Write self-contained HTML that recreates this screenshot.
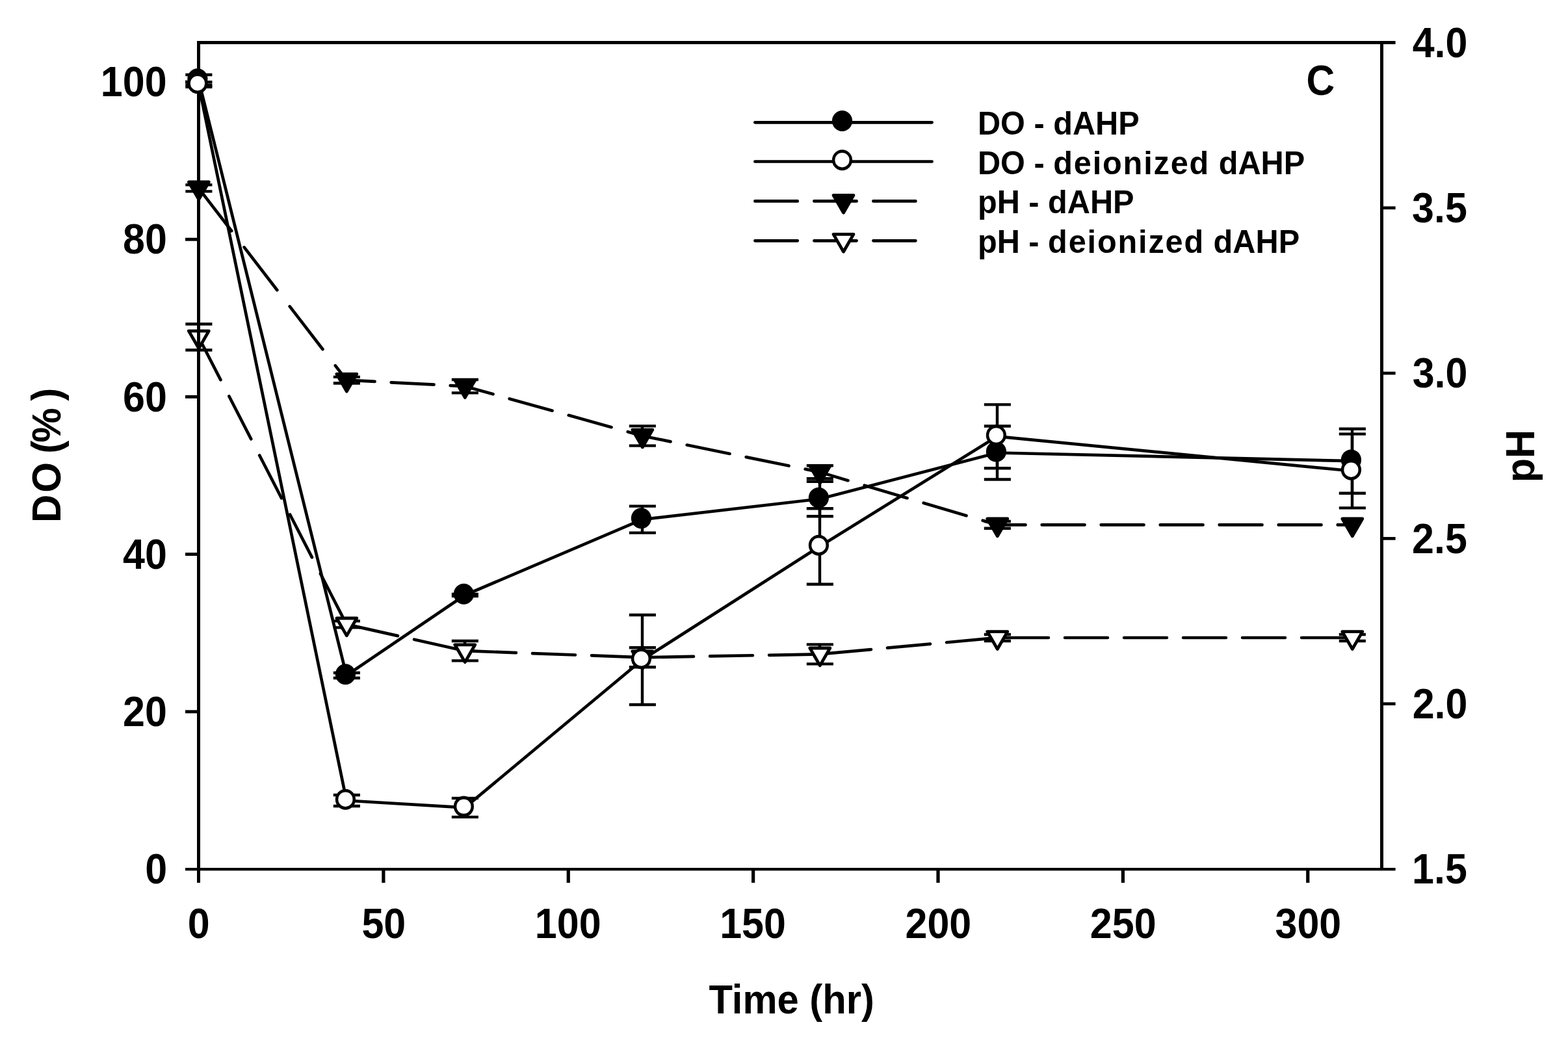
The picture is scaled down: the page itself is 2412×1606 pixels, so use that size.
<!DOCTYPE html>
<html lang="en"><head><meta charset="utf-8"><title>DO and pH versus time</title>
<style>
html,body{margin:0;padding:0;background:#fff;}
body{width:2412px;height:1606px;overflow:hidden;}
svg{display:block;}
text{font-family:"Liberation Sans", sans-serif;font-weight:bold;fill:#000;}
.ax{fill:#000;}
.ln{stroke:#000;stroke-width:4.7;fill:none;stroke-linejoin:round;stroke-linecap:round;}
.eb{stroke:#000;stroke-width:4.4;fill:none;stroke-linecap:butt;}
.k{fill:#000;}
.tf{fill:#000;stroke:#000;stroke-width:4.8;stroke-linejoin:round;}
.to{fill:#fff;stroke:#000;stroke-width:4.8;stroke-linejoin:round;}
.w{fill:#fff;}
</style></head><body>
<svg width="2412" height="1606" viewBox="0 0 2412 1606" role="img" aria-label="DO and pH versus time">
<rect x="0" y="0" width="2412" height="1606" fill="#fff"/>
<g id="ph-series">
<path class="ln" d="M305.5 289.4L356.19 355.2M375.61 380.4L426.3 446.2M445.71 471.4L496.41 537.2M515.82 562.4L533 584.7L576.5 586.97M601.7 588.29L667.5 591.72M692.7 593.04L715 594.2L758.5 606.36M783.7 613.4L849.5 631.79M874.7 638.83L940.5 657.22M965.7 664.27L988 670.5L1031.5 679.38M1056.7 684.52L1122.5 697.94M1147.7 703.08L1213.5 716.51M1238.7 721.65L1261 726.2L1304.5 739.14M1329.7 746.63L1395.5 766.21M1420.7 773.7L1486.5 793.27M1511.7 800.77L1534 807.4L1577.5 807.4M1602.7 807.4L1668.5 807.4M1693.7 807.4L1759.5 807.4M1784.7 807.4L1850.5 807.4M1875.7 807.4L1941.5 807.4M1966.7 807.4L2032.5 807.4M2057.7 807.4L2080 807.4"/>
<path class="eb" d="M305.5 284.4V294.4M285.3 284.4H326.4M285.3 294.4H326.4M533 579.9V589.5M512.8 579.9H553.9M512.8 589.5H553.9M715 584V604.4M694.8 584H735.9M694.8 604.4H735.9M988 655.4V685.6M967.8 655.4H1008.9M967.8 685.6H1008.9M1261 716.2V736.2M1240.8 716.2H1281.9M1240.8 736.2H1281.9M1534 802V812.8M1513.8 802H1554.9M1513.8 812.8H1554.9"/>
<polygon class="tf" points="290.3,280 321.3,280 305.8,306.85"/>
<polygon class="tf" points="517.8,575.3 548.8,575.3 533.3,602.15"/>
<polygon class="tf" points="699.8,584.8 730.8,584.8 715.3,611.65"/>
<polygon class="tf" points="972.8,661.1 1003.8,661.1 988.3,687.95"/>
<polygon class="tf" points="1245.8,716.8 1276.8,716.8 1261.3,743.65"/>
<polygon class="tf" points="1518.8,798 1549.8,798 1534.3,824.85"/>
<polygon class="tf" points="2064.8,798 2095.8,798 2080.3,824.85"/>
<path class="ln" d="M305.5 518.5L339.38 584.3M352.35 609.5L386.22 675.3M399.2 700.5L433.07 766.3M446.05 791.5L479.92 857.3M492.9 882.5L526.77 948.3M546.1 963.34L611.9 978.09M637.1 983.74L702.9 998.49M728.1 1001.68L793.9 1004.12M819.1 1005.05L884.9 1007.49M910.1 1008.42L975.9 1010.85M1001.1 1011.06L1066.9 1009.88M1092.1 1009.43L1157.9 1008.25M1183.1 1007.8L1248.9 1006.62M1274.1 1005.18L1339.9 999.06M1365.1 996.71L1430.9 990.59M1456.1 988.25L1521.9 982.13M1547.1 981L1612.9 981M1638.1 981L1703.9 981M1729.1 981L1794.9 981M1820.1 981L1885.9 981M1911.1 981L1976.9 981M2002.1 981L2067.9 981"/>
<path class="eb" d="M305.5 498.5V538.5M285.3 498.5H326.4M285.3 538.5H326.4M533 955.4V965.4M512.8 955.4H553.9M512.8 965.4H553.9M715 986V1016.4M694.8 986H735.9M694.8 1016.4H735.9M988 996.3V1026.3M967.8 996.3H1008.9M967.8 1026.3H1008.9M1261 991.4V1021.4M1240.8 991.4H1281.9M1240.8 1021.4H1281.9M1534 976V986M1513.8 976H1554.9M1513.8 986H1554.9M2080 976V986M2059.8 976H2100.9M2059.8 986H2100.9"/>
<polygon class="to" points="290.3,509.1 321.3,509.1 305.8,535.95"/>
<polygon class="to" points="517.8,951 548.8,951 533.3,977.85"/>
<polygon class="to" points="699.8,991.8 730.8,991.8 715.3,1018.65"/>
<polygon class="to" points="972.8,1001.9 1003.8,1001.9 988.3,1028.75"/>
<polygon class="to" points="1245.8,997 1276.8,997 1261.3,1023.85"/>
<polygon class="to" points="1518.8,971.6 1549.8,971.6 1534.3,998.45"/>
<polygon class="to" points="2064.8,971.6 2095.8,971.6 2080.3,998.45"/>
</g>
<g id="axes">
<rect class="ax" x="303" y="63" width="5" height="1295"/>
<rect class="ax" x="2123" y="63" width="5" height="1276"/>
<rect class="ax" x="303" y="63" width="1843.6" height="5"/>
<rect class="ax" x="285" y="1335" width="1861.6" height="4.3"/>
<rect class="ax" x="285" y="1092.36" width="18" height="4.9"/>
<rect class="ax" x="285" y="850.17" width="18" height="4.9"/>
<rect class="ax" x="285" y="607.98" width="18" height="4.9"/>
<rect class="ax" x="285" y="365.79" width="18" height="4.9"/>
<rect class="ax" x="285" y="123.6" width="18" height="4.9"/>
<rect class="ax" x="2128" y="1080.35" width="18.6" height="4.7"/>
<rect class="ax" x="2128" y="826.05" width="18.6" height="4.7"/>
<rect class="ax" x="2128" y="571.75" width="18.6" height="4.7"/>
<rect class="ax" x="2128" y="317.45" width="18.6" height="4.7"/>
<rect class="ax" x="587.27" y="1339" width="5.2" height="19"/>
<rect class="ax" x="871.65" y="1339" width="5.2" height="19"/>
<rect class="ax" x="1156.03" y="1339" width="5.2" height="19"/>
<rect class="ax" x="1440.4" y="1339" width="5.2" height="19"/>
<rect class="ax" x="1724.78" y="1339" width="5.2" height="19"/>
<rect class="ax" x="2009.15" y="1339" width="5.2" height="19"/>
</g>
<g id="do-series">
<polyline class="ln" points="305.5,123 533,1039 715,915.5 988,799.1 1261,767.5 1534,696.5 2080,709.2"/>
<path class="eb" d="M305.5 115V131M285.3 115H326.4M285.3 131H326.4M533 1035V1043M512.8 1035H553.9M512.8 1043H553.9M715 914V917M694.8 914H735.9M694.8 917H735.9M988 778.6V819.6M967.8 778.6H1008.9M967.8 819.6H1008.9M1261 740.8V794.2M1240.8 740.8H1281.9M1240.8 794.2H1281.9M1534 655.5V737.5M1513.8 655.5H1554.9M1513.8 737.5H1554.9M2080 659.7V758.7M2059.8 659.7H2100.9M2059.8 758.7H2100.9"/>
<ellipse class="k" cx="303.9" cy="121.2" rx="15.6" ry="16"/>
<ellipse class="k" cx="531.4" cy="1037.2" rx="15.6" ry="16"/>
<ellipse class="k" cx="713.4" cy="913.7" rx="15.6" ry="16"/>
<ellipse class="k" cx="986.4" cy="797.3" rx="15.6" ry="16"/>
<ellipse class="k" cx="1259.4" cy="765.7" rx="15.6" ry="16"/>
<ellipse class="k" cx="1532.4" cy="694.7" rx="15.6" ry="16"/>
<ellipse class="k" cx="2078.4" cy="707.4" rx="15.6" ry="16"/>
<polyline class="ln" points="305.5,130 533,1231.5 715,1242.4 988,1015 1261,840.5 1534,671.3 2080,724.5"/>
<path class="eb" d="M305.5 126.2V133.8M285.3 126.2H326.4M285.3 133.8H326.4M533 1223V1240M512.8 1223H553.9M512.8 1240H553.9M715 1227.9V1256.9M694.8 1227.9H735.9M694.8 1256.9H735.9M988 946V1084M967.8 946H1008.9M967.8 1084H1008.9M1261 782.3V898.7M1240.8 782.3H1281.9M1240.8 898.7H1281.9M1534 622.4V720.2M1513.8 622.4H1554.9M1513.8 720.2H1554.9M2080 667.6V781.4M2059.8 667.6H2100.9M2059.8 781.4H2100.9"/>
<ellipse class="k" cx="303.9" cy="128.2" rx="15.6" ry="16"/>
<ellipse class="w" cx="303.9" cy="128.2" rx="11.1" ry="11.2"/>
<ellipse class="k" cx="531.4" cy="1229.7" rx="15.6" ry="16"/>
<ellipse class="w" cx="531.4" cy="1229.7" rx="11.1" ry="11.2"/>
<ellipse class="k" cx="713.4" cy="1240.6" rx="15.6" ry="16"/>
<ellipse class="w" cx="713.4" cy="1240.6" rx="11.1" ry="11.2"/>
<ellipse class="k" cx="986.4" cy="1013.2" rx="15.6" ry="16"/>
<ellipse class="w" cx="986.4" cy="1013.2" rx="11.1" ry="11.2"/>
<ellipse class="k" cx="1259.4" cy="838.7" rx="15.6" ry="16"/>
<ellipse class="w" cx="1259.4" cy="838.7" rx="11.1" ry="11.2"/>
<ellipse class="k" cx="1532.4" cy="669.5" rx="15.6" ry="16"/>
<ellipse class="w" cx="1532.4" cy="669.5" rx="11.1" ry="11.2"/>
<ellipse class="k" cx="2078.4" cy="722.7" rx="15.6" ry="16"/>
<ellipse class="w" cx="2078.4" cy="722.7" rx="11.1" ry="11.2"/>
</g>
<g id="ticklabels">
<text transform="translate(223.19,1359.22) scale(1,1.075)" font-size="61">0</text>
<text transform="translate(189.03,1117.03) scale(1,1.075)" font-size="61">20</text>
<text transform="translate(189.03,874.84) scale(1,1.075)" font-size="61">40</text>
<text transform="translate(189.03,632.65) scale(1,1.075)" font-size="61">60</text>
<text transform="translate(189.03,390.46) scale(1,1.075)" font-size="61">80</text>
<text transform="translate(154.87,148.27) scale(1,1.075)" font-size="61">100</text>
<text transform="translate(2172.04,1359) scale(1,1.075)" font-size="61">1.5</text>
<text transform="translate(2172.65,1105.02) scale(1,1.075)" font-size="61">2.0</text>
<text transform="translate(2172.04,850.72) scale(1,1.075)" font-size="61">2.5</text>
<text transform="translate(2172.65,596.42) scale(1,1.075)" font-size="61">3.0</text>
<text transform="translate(2172.04,342.12) scale(1,1.075)" font-size="61">3.5</text>
<text transform="translate(2172.65,87.82) scale(1,1.075)" font-size="61">4.0</text>
<text transform="translate(288.83,1442.6) scale(1,1.075)" font-size="61">0</text>
<text transform="translate(556.43,1442.6) scale(1,1.075)" font-size="61">50</text>
<text transform="translate(822.81,1442.6) scale(1,1.075)" font-size="61">100</text>
<text transform="translate(1107.18,1442.6) scale(1,1.075)" font-size="61">150</text>
<text transform="translate(1392.47,1442.6) scale(1,1.075)" font-size="61">200</text>
<text transform="translate(1676.84,1442.6) scale(1,1.075)" font-size="61">250</text>
<text transform="translate(1961.52,1442.6) scale(1,1.075)" font-size="61">300</text>
</g>
<g id="titles">
<text transform="translate(1090.4,1558.8) scale(1,1.040)" font-size="59.74">Time (hr)</text>
<text transform="translate(93.1,804) rotate(-90) scale(1,1.045)" font-size="60" dx="0 3 0 -3.5 -2.8 10.5">DO (%)</text>
<text transform="translate(2359.9,742.2) rotate(-90) scale(1,1.035)" font-size="61">pH</text>
<text transform="translate(2009.58,145.6) scale(1,1.073)" font-size="60.5">C</text>
</g>
<g id="legend">
<path class="ln" d="M1161.4 188.3H1433.6"/>
<ellipse class="k" cx="1295.5" cy="186" rx="15.6" ry="16"/>
<text transform="translate(1503.89,206.6) scale(1,1.035)" font-size="48.7">DO - dAHP</text>
<path class="ln" d="M1161.4 248.5H1433.6"/>
<ellipse class="k" cx="1295.5" cy="246.2" rx="15.6" ry="16"/>
<ellipse class="w" cx="1295.5" cy="246.2" rx="11.1" ry="11.2"/>
<text transform="translate(1503.89,267.7) scale(1,1.035)" font-size="48.7" dx="0 0 0 0 0 0 1.82 1.82 1.82 1.82 1.82 1.82 1.82 1.82 1.82 0 0 0 0">DO - deionized dAHP</text>
<path class="ln" d="M1161.4 309.4H1226.8 M1252.4 309.4H1317.6 M1343.4 309.4H1408.4"/>
<polygon class="tf" points="1282,300.4 1313,300.4 1297.5,327.25"/>
<text transform="translate(1503.89,328.1) scale(1,1.035)" font-size="48.7">pH - dAHP</text>
<path class="ln" d="M1161.4 370.3H1226.8 M1252.4 370.3H1317.6 M1343.4 370.3H1408.4"/>
<polygon class="to" points="1282,360.4 1313,360.4 1297.5,387.25"/>
<text transform="translate(1503.89,389) scale(1,1.035)" font-size="48.7" dx="0 0 0 0 0 0 1.82 1.82 1.82 1.82 1.82 1.82 1.82 1.82 1.82 0 0 0 0">pH - deionized dAHP</text>
</g>
</svg>
</body></html>
